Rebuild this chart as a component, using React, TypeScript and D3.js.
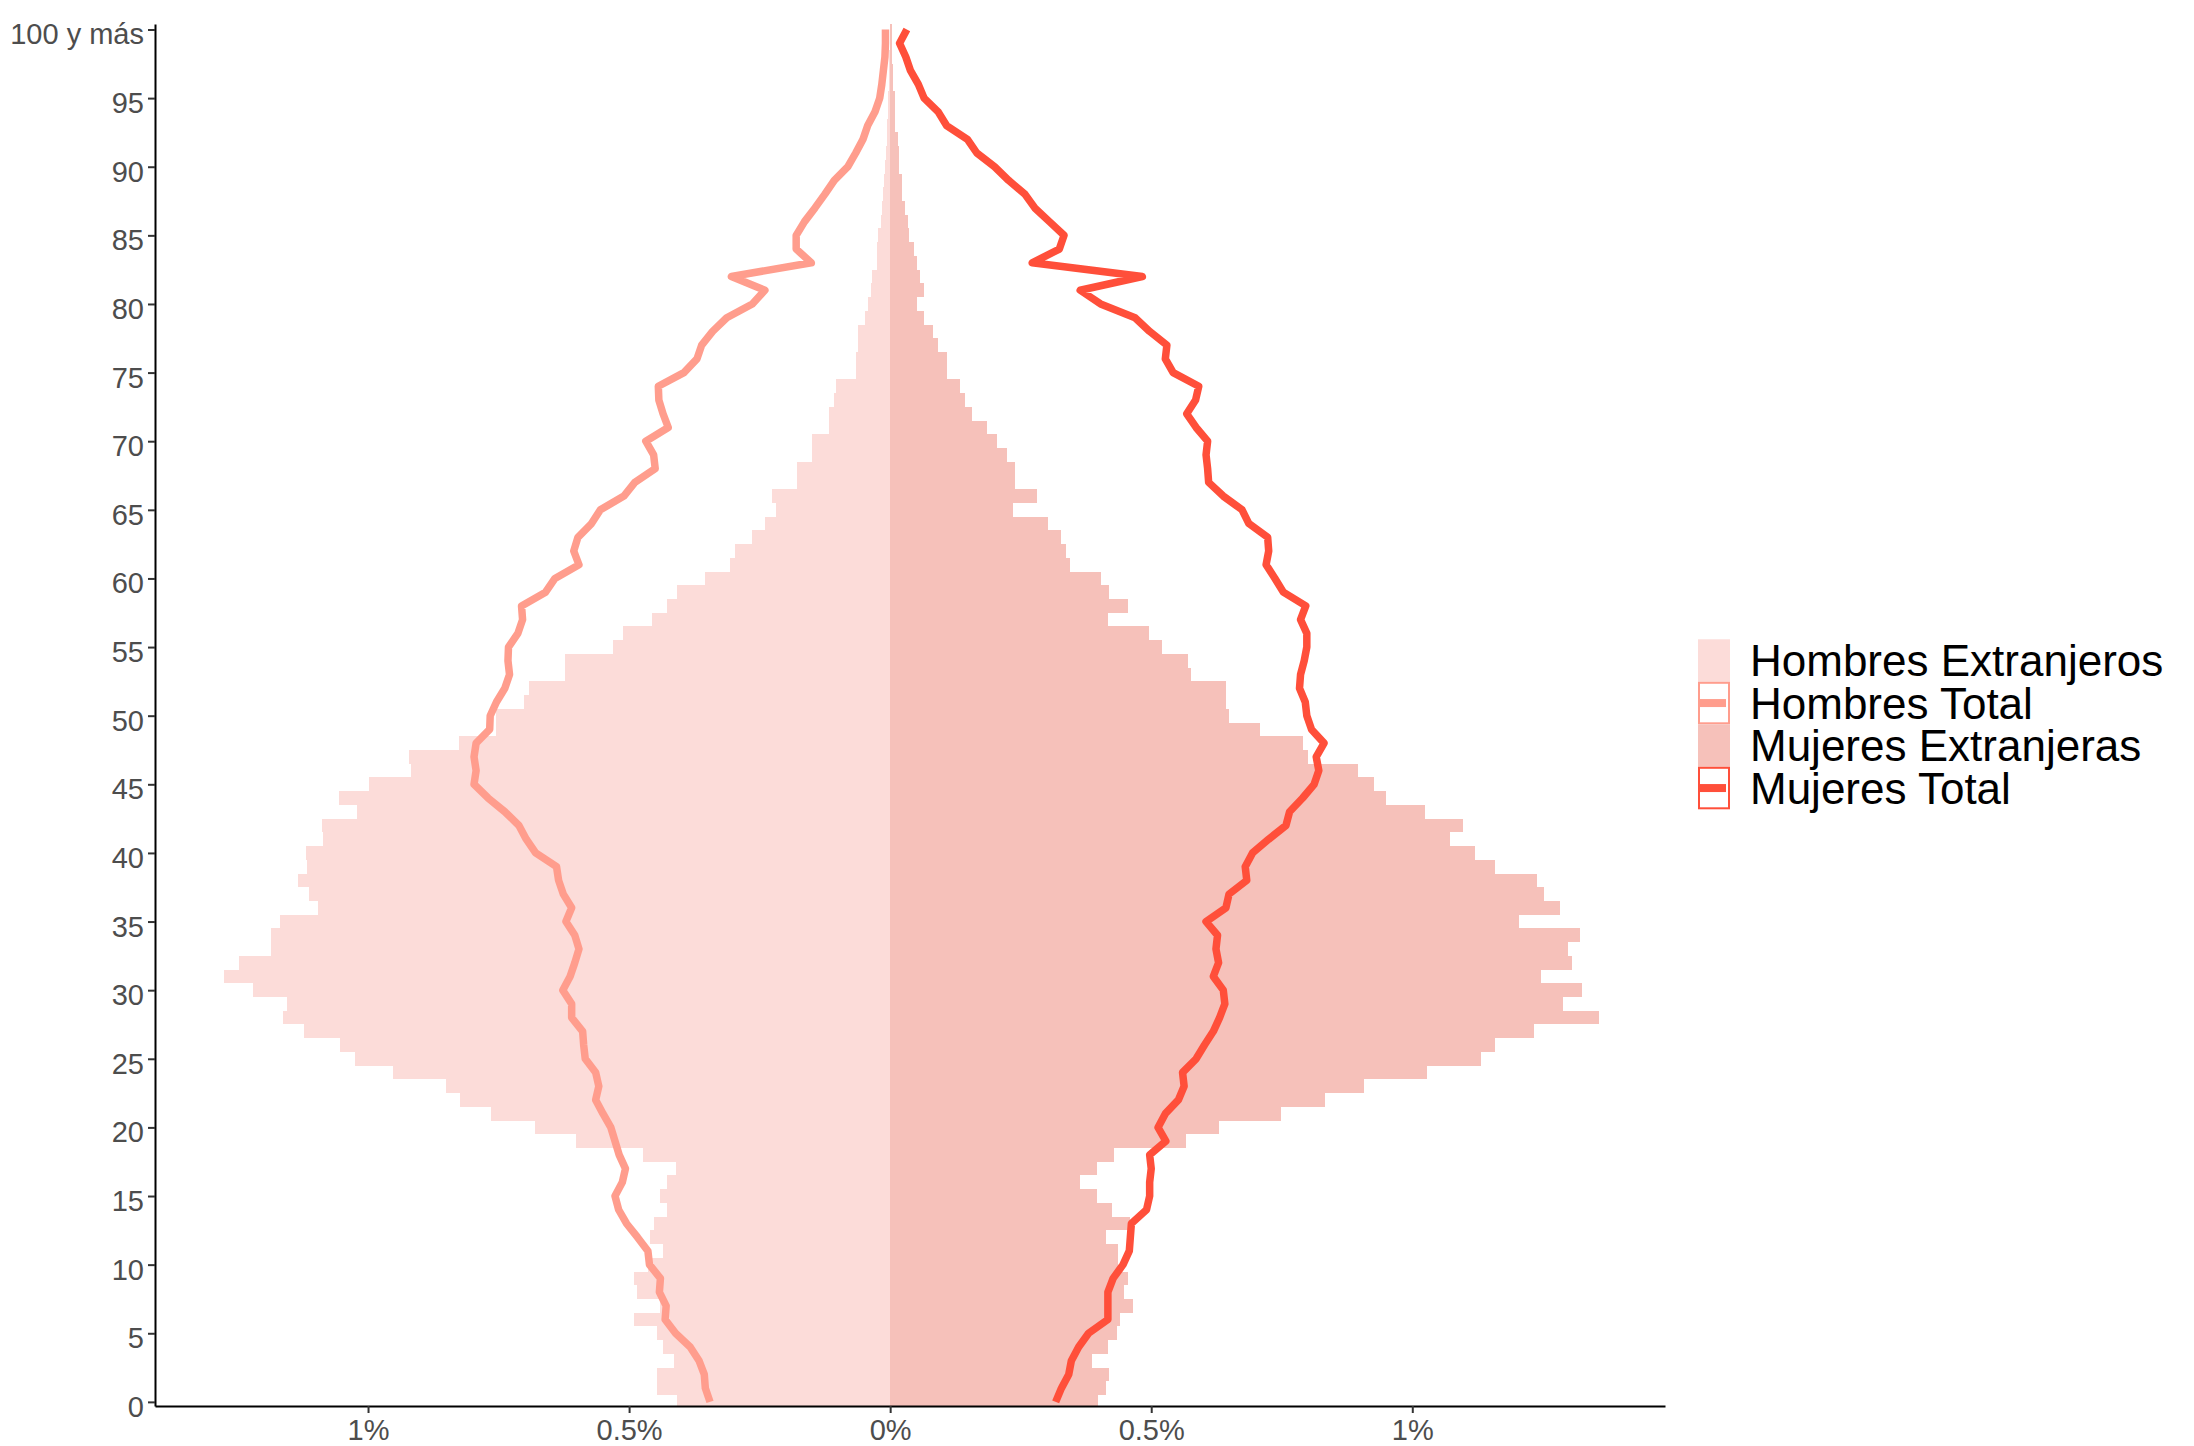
import React, { useEffect, useRef } from 'react';
import * as d3 from 'd3';

// Population pyramid: share of total population (%) by single year of age
const ages = d3.range(0, 101);

// Hombres Extranjeros (drawn to the left)
const menExtranjeros = [
  0.409, 0.446, 0.447, 0.414, 0.435, 0.446, 0.491, 0.441, 0.484, 0.491,
  0.464, 0.435, 0.46, 0.452, 0.427, 0.441, 0.427, 0.411, 0.473, 0.601,
  0.68, 0.764, 0.824, 0.85, 0.952, 1.024, 1.053, 1.122, 1.162, 1.156,
  1.22, 1.276, 1.248, 1.186, 1.186, 1.168, 1.095, 1.113, 1.134, 1.116,
  1.119, 1.086, 1.088, 1.022, 1.055, 0.999, 0.918, 0.921, 0.825, 0.755,
  0.755, 0.702, 0.691, 0.623, 0.623, 0.531, 0.512, 0.456, 0.427, 0.409,
  0.354, 0.307, 0.297, 0.264, 0.24, 0.219, 0.226, 0.178, 0.178, 0.15,
  0.15, 0.118, 0.118, 0.107, 0.104, 0.066, 0.066, 0.061, 0.061, 0.048,
  0.042, 0.037, 0.035, 0.026, 0.025, 0.024, 0.018, 0.015, 0.013, 0.012,
  0.01, 0.008, 0.007, 0.006, 0.005, 0.004, 0.003, 0.002, 0.002, 0.001,
  0.001,
];

// Mujeres Extranjeras (drawn to the right)
const womenExtranjeras = [
  0.399, 0.413, 0.419, 0.386, 0.417, 0.434, 0.441, 0.466, 0.448, 0.455,
  0.436, 0.436, 0.413, 0.46, 0.424, 0.397, 0.364, 0.397, 0.429, 0.566,
  0.629, 0.748, 0.833, 0.908, 1.028, 1.131, 1.159, 1.234, 1.358, 1.288,
  1.325, 1.246, 1.305, 1.298, 1.322, 1.204, 1.283, 1.253, 1.239, 1.159,
  1.12, 1.073, 1.098, 1.025, 0.95, 0.927, 0.896, 0.801, 0.79, 0.709,
  0.649, 0.643, 0.643, 0.577, 0.571, 0.521, 0.495, 0.417, 0.456, 0.42,
  0.403, 0.345, 0.336, 0.328, 0.303, 0.236, 0.281, 0.239, 0.239, 0.223,
  0.204, 0.186, 0.157, 0.143, 0.133, 0.108, 0.108, 0.091, 0.082, 0.065,
  0.051, 0.065, 0.058, 0.051, 0.045, 0.037, 0.034, 0.028, 0.023, 0.023,
  0.017, 0.016, 0.015, 0.01, 0.009, 0.009, 0.006, 0.005, 0.004, 0.003,
  0.003,
];

// Hombres Total (line, left)
const menTotal = [
  0.345, 0.354, 0.356, 0.366, 0.383, 0.411, 0.431, 0.429, 0.442, 0.44,
  0.461, 0.464, 0.484, 0.505, 0.52, 0.527, 0.513, 0.507, 0.519, 0.527,
  0.535, 0.55, 0.564, 0.558, 0.564, 0.584, 0.587, 0.589, 0.61, 0.61,
  0.627, 0.613, 0.604, 0.596, 0.604, 0.621, 0.61, 0.626, 0.635, 0.639,
  0.679, 0.697, 0.711, 0.738, 0.77, 0.797, 0.793, 0.797, 0.793, 0.767,
  0.766, 0.754, 0.738, 0.729, 0.732, 0.731, 0.713, 0.704, 0.706, 0.66,
  0.642, 0.596, 0.606, 0.598, 0.572, 0.555, 0.51, 0.489, 0.45, 0.453,
  0.468, 0.425, 0.435, 0.443, 0.444, 0.395, 0.37, 0.361, 0.34, 0.313,
  0.264, 0.24, 0.304, 0.151, 0.18, 0.18, 0.164, 0.144, 0.125, 0.107,
  0.081, 0.066, 0.052, 0.043, 0.029, 0.02, 0.016, 0.013, 0.01, 0.009,
  0.009,
];

// Mujeres Total (line, right)
const womenTotal = [
  0.317, 0.328, 0.342, 0.347, 0.361, 0.38, 0.417, 0.417, 0.417, 0.427,
  0.446, 0.458, 0.46, 0.462, 0.491, 0.497, 0.497, 0.5, 0.497, 0.528,
  0.513, 0.527, 0.552, 0.563, 0.56, 0.586, 0.602, 0.619, 0.631, 0.641,
  0.638, 0.619, 0.629, 0.624, 0.627, 0.605, 0.643, 0.649, 0.683, 0.68,
  0.694, 0.725, 0.758, 0.765, 0.79, 0.812, 0.821, 0.816, 0.831, 0.807,
  0.798, 0.795, 0.784, 0.786, 0.793, 0.798, 0.798, 0.786, 0.796, 0.753,
  0.737, 0.72, 0.725, 0.723, 0.687, 0.674, 0.638, 0.61, 0.608, 0.605,
  0.608, 0.586, 0.568, 0.585, 0.591, 0.542, 0.527, 0.53, 0.497, 0.469,
  0.403, 0.364, 0.483, 0.272, 0.324, 0.333, 0.305, 0.277, 0.258, 0.227,
  0.2, 0.166, 0.148, 0.108, 0.092, 0.065, 0.054, 0.039, 0.03, 0.018,
  0.032,
];

const ageTicks = [0, 5, 10, 15, 20, 25, 30, 35, 40, 45, 50, 55, 60, 65, 70, 75, 80, 85, 90, 95, 100];
const ageTickLabels = ['0', '5', '10', '15', '20', '25', '30', '35', '40', '45', '50', '55', '60', '65', '70', '75', '80', '85', '90', '95', '100 y más'];
const pctTicks = [-1, -0.5, 0, 0.5, 1];
const pctTickLabels = ['1%', '0.5%', '0%', '0.5%', '1%'];

const legendLabels = ['Hombres Extranjeros', 'Hombres Total', 'Mujeres Extranjeras', 'Mujeres Total'];

const COLORS = {
  menBar: '#fcdcd9',
  womenBar: '#f6c1ba',
  menLine: '#ff9d8d',
  womenLine: '#ff4f3a',
};

const FONT = '"Liberation Sans", Arial, Helvetica, sans-serif';

const width = 2194;
const height = 1446;
const panel = { left: 155, right: 1665, top: 24, bottom: 1406 };

export default function App() {
  const svgRef = useRef<SVGSVGElement>(null);

  useEffect(() => {
    if (!svgRef.current) return;
    const svg = d3.select(svgRef.current);
    svg.selectAll('*').remove();

    const x = d3.scaleLinear().domain([-1.408, 1.484]).range([panel.left, panel.right]);
    const y = d3.scaleLinear().domain([-0.3, 100.4]).range([panel.bottom, panel.top]);

    svg.append('defs')
      .append('clipPath')
      .attr('id', 'panel-clip')
      .append('rect')
      .attr('x', panel.left)
      .attr('y', panel.top)
      .attr('width', panel.right - panel.left)
      .attr('height', panel.bottom - panel.top);

    const plot = svg.append('g').attr('clip-path', 'url(#panel-clip)');

    // bars, one age wide
    const barTop = (a: number) => y(a + 0.5);
    const barH = (a: number) => y(a - 0.5) - y(a + 0.5);

    plot.append('g')
      .selectAll('rect')
      .data(ages)
      .join('rect')
      .attr('x', (a) => x(-menExtranjeros[a]))
      .attr('width', (a) => x(0) - x(-menExtranjeros[a]))
      .attr('y', barTop)
      .attr('height', barH)
      .attr('fill', COLORS.menBar)
      .attr('shape-rendering', 'crispEdges');

    plot.append('g')
      .selectAll('rect')
      .data(ages)
      .join('rect')
      .attr('x', x(0))
      .attr('width', (a) => x(womenExtranjeras[a]) - x(0))
      .attr('y', barTop)
      .attr('height', barH)
      .attr('fill', COLORS.womenBar)
      .attr('shape-rendering', 'crispEdges');

    // total lines
    const menLine = d3.line<number>().x((a) => x(-menTotal[a])).y((a) => y(a));
    const womenLine = d3.line<number>().x((a) => x(womenTotal[a])).y((a) => y(a));

    plot.append('path')
      .attr('d', menLine(ages))
      .attr('fill', 'none')
      .attr('stroke', COLORS.menLine)
      .attr('stroke-width', 7.5)
      .attr('stroke-linejoin', 'round');

    plot.append('path')
      .attr('d', womenLine(ages))
      .attr('fill', 'none')
      .attr('stroke', COLORS.womenLine)
      .attr('stroke-width', 7.5)
      .attr('stroke-linejoin', 'round');

    // y axis
    svg.append('g')
      .attr('transform', `translate(${panel.left},0)`)
      .call(
        d3.axisLeft(y)
          .tickValues(ageTicks)
          .tickFormat((_, i) => ageTickLabels[i])
          .tickSize(7)
          .tickSizeOuter(0)
          .tickPadding(4)
      )
      .call((g) => g.select('.domain').attr('stroke', '#000').attr('stroke-width', 2))
      .call((g) => g.selectAll('.tick line').attr('stroke', '#333').attr('stroke-width', 2))
      .call((g) => g.selectAll('.tick text')
        .attr('fill', '#4d4d4d')
        .attr('font-size', '29px')
        .attr('font-family', FONT)
        .attr('dy', '0.5em'));

    // x axis
    svg.append('g')
      .attr('transform', `translate(0,${panel.bottom})`)
      .call(
        d3.axisBottom(x)
          .tickValues(pctTicks)
          .tickFormat((_, i) => pctTickLabels[i])
          .tickSize(7)
          .tickSizeOuter(0)
          .tickPadding(6)
      )
      .call((g) => g.select('.domain').attr('stroke', '#000').attr('stroke-width', 2))
      .call((g) => g.selectAll('.tick line').attr('stroke', '#333').attr('stroke-width', 2))
      .call((g) => g.selectAll('.tick text')
        .attr('fill', '#4d4d4d')
        .attr('font-size', '29px')
        .attr('font-family', FONT));

    // legend
    const keyX = 1698;
    const keyW = 32;
    const rowH = 42.5;
    const legendTop = 639.3;
    const legend = svg.append('g');

    legendLabels.forEach((label, i) => {
      const ry = legendTop + i * rowH;
      const isLine = i % 2 === 1;
      const lineColor = i < 2 ? COLORS.menLine : COLORS.womenLine;
      const barColor = i < 2 ? COLORS.menBar : COLORS.womenBar;
      if (isLine) {
        legend.append('rect')
          .attr('x', keyX + 1)
          .attr('y', ry + 1)
          .attr('width', keyW - 2)
          .attr('height', rowH - 2)
          .attr('fill', '#fff')
          .attr('stroke', lineColor)
          .attr('stroke-width', 2);
        legend.append('line')
          .attr('x1', keyX + 2)
          .attr('x2', keyX + keyW - 4)
          .attr('y1', ry + rowH / 2)
          .attr('y2', ry + rowH / 2)
          .attr('stroke', lineColor)
          .attr('stroke-width', 8);
      } else {
        legend.append('rect')
          .attr('x', keyX)
          .attr('y', ry)
          .attr('width', keyW)
          .attr('height', rowH)
          .attr('fill', barColor);
      }
      legend.append('text')
        .attr('x', 1750)
        .attr('y', ry + rowH / 2)
        .attr('dy', '0.36em')
        .attr('fill', '#000')
        .attr('font-size', '44px')
        .attr('font-family', FONT)
        .text(label);
    });
  }, []);

  return (
    <div style={{ position: 'absolute', left: 0, top: 0, width, height, background: '#fff' }}>
      <svg ref={svgRef} width={width} height={height} viewBox={`0 0 ${width} ${height}`} />
    </div>
  );
}
